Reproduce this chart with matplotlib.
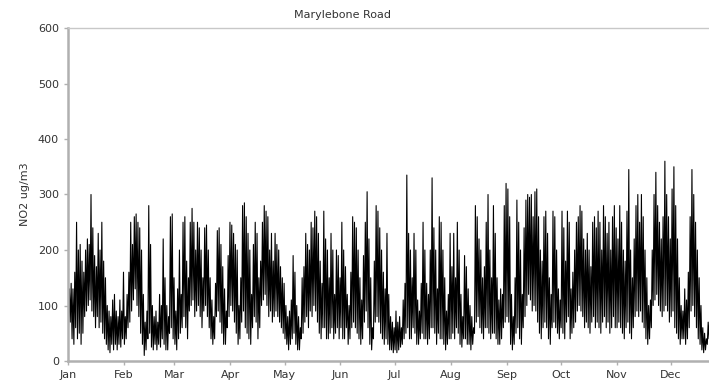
import numpy as np
import matplotlib.pyplot as plt

# daily NO2 peak / trough (ug/m3), one pair per day from 1 Jan
jan_hi = [130, 140, 130, 160, 250, 200, 210, 180, 160, 200, 220, 210, 300, 240, 190, 170,
          230, 200, 250, 180, 150, 100, 90, 80, 110, 120, 90, 80, 110, 90, 160]
jan_lo = [60, 70, 40, 30, 60, 40, 50, 30, 50, 80, 90, 100, 110, 90, 80, 60,
          80, 60, 70, 50, 40, 30, 20, 15, 30, 20, 30, 20, 30, 25, 40]
feb_hi = [80, 120, 160, 250, 210, 260, 265, 250, 240, 200, 120, 70, 90, 280,
          210, 100, 80, 90, 70, 120, 100, 220, 150, 100, 80, 260, 265, 150]
feb_lo = [30, 40, 60, 70, 90, 110, 130, 100, 80, 50, 30, 10, 20, 40,
          50, 25, 20, 30, 20, 30, 25, 40, 30, 20, 20, 50, 60, 40]
mar_hi = [90, 130, 200, 120, 250, 260, 180, 150, 250, 275, 250, 200, 250, 240, 200, 150,
          240, 245, 200, 150, 110, 80, 140, 235, 240, 210, 170, 130, 90, 190, 250]
mar_lo = [30, 20, 40, 50, 60, 80, 60, 40, 90, 100, 110, 80, 90, 100, 80, 60,
          90, 100, 80, 60, 40, 30, 40, 80, 90, 70, 50, 30, 30, 60, 80]
apr_hi = [245, 230, 210, 200, 100, 150, 280, 285, 260, 230, 200, 120, 210, 250, 230,
          150, 180, 250, 280, 270, 260, 200, 230, 180, 230, 210, 200, 170, 150, 140]
apr_lo = [100, 90, 70, 50, 30, 40, 70, 90, 60, 50, 40, 30, 60, 80, 70,
          40, 60, 100, 110, 120, 100, 80, 90, 70, 80, 90, 80, 70, 60, 50]
may_hi = [100, 80, 90, 110, 190, 160, 100, 80, 60, 150, 170, 230, 210, 200, 250, 240,
          270, 260, 230, 180, 140, 270, 220, 200, 150, 230, 200, 120, 200, 190, 150]
may_lo = [40, 30, 20, 30, 40, 50, 30, 20, 20, 40, 50, 70, 80, 60, 90, 80,
          100, 90, 70, 50, 40, 60, 60, 40, 40, 50, 60, 40, 50, 60, 40]
jun_hi = [250, 200, 170, 120, 100, 160, 260, 250, 240, 200, 150, 110, 190, 250, 305,
          220, 150, 60, 180, 280, 270, 240, 200, 160, 130, 230, 120, 80, 70, 60]
jun_lo = [60, 40, 40, 60, 30, 40, 60, 70, 60, 50, 40, 30, 40, 70, 90,
          60, 30, 20, 40, 70, 80, 70, 50, 40, 30, 40, 30, 20, 20, 15]
jul_hi = [90, 70, 80, 60, 110, 140, 335, 230, 200, 150, 230, 200, 110, 90, 140, 250,
          200, 140, 120, 200, 330, 240, 200, 130, 260, 250, 200, 150, 90, 120, 230]
jul_lo = [20, 15, 20, 25, 30, 40, 50, 60, 40, 40, 60, 50, 30, 30, 40, 50,
          40, 40, 30, 40, 60, 60, 50, 30, 50, 40, 40, 30, 20, 30, 40]
aug_hi = [170, 230, 150, 250, 200, 120, 80, 190, 170, 130, 100, 80, 60, 280, 260, 220,
          200, 150, 170, 250, 300, 200, 150, 280, 230, 150, 110, 130, 120, 280, 320]
aug_lo = [40, 50, 40, 60, 50, 30, 25, 40, 40, 30, 30, 20, 30, 50, 70, 80,
          60, 50, 40, 60, 60, 50, 40, 50, 50, 40, 30, 30, 40, 60, 70]
sep_hi = [310, 260, 120, 80, 150, 290, 250, 200, 120, 240, 290, 300, 295, 300, 260,
          305, 310, 260, 200, 180, 260, 270, 230, 150, 120, 270, 260, 200, 130, 110]
sep_lo = [80, 70, 30, 20, 30, 50, 60, 40, 30, 60, 80, 100, 120, 110, 90,
          100, 90, 70, 50, 40, 60, 70, 60, 40, 30, 60, 70, 60, 50, 40]
oct_hi = [270, 240, 180, 270, 250, 130, 160, 200, 250, 260, 280, 270, 220, 200, 230, 200,
          170, 250, 260, 240, 270, 250, 200, 280, 260, 230, 250, 200, 260, 280, 240]
oct_lo = [60, 50, 40, 70, 80, 40, 50, 60, 70, 90, 100, 90, 80, 60, 70, 60,
          50, 70, 80, 60, 70, 60, 50, 70, 80, 60, 70, 50, 60, 80, 60]
nov_hi = [220, 280, 250, 200, 180, 270, 345, 200, 150, 220, 280, 300, 250, 300, 260,
          200, 150, 100, 110, 200, 300, 340, 280, 250, 220, 260, 360, 300, 260, 220]
nov_lo = [60, 70, 60, 50, 40, 60, 70, 50, 40, 60, 80, 90, 80, 90, 70,
          60, 40, 30, 40, 60, 100, 110, 120, 100, 90, 80, 90, 100, 90, 70]
dec_hi = [310, 350, 280, 220, 150, 100, 90, 130, 110, 160, 260, 345, 300, 250, 200,
          150, 100, 60, 50, 40, 70, 90]
dec_lo = [80, 90, 60, 50, 40, 30, 40, 40, 30, 40, 60, 90, 100, 80, 60,
          40, 30, 20, 15, 20, 30, 40]

months = ['Jan', 'Feb', 'Mar', 'Apr', 'May', 'Jun', 'Jul', 'Aug', 'Sep', 'Oct', 'Nov', 'Dec']
month_start = [0, 31, 59, 90, 120, 151, 181, 212, 243, 273, 304, 334]

hi = jan_hi + feb_hi + mar_hi + apr_hi + may_hi + jun_hi + jul_hi + aug_hi + sep_hi + oct_hi + nov_hi + dec_hi
lo = jan_lo + feb_lo + mar_lo + apr_lo + may_lo + jun_lo + jul_lo + aug_lo + sep_lo + oct_lo + nov_lo + dec_lo

# zigzag trough -> peak for every day
days = np.arange(len(hi))
x = np.column_stack([days + 0.25, days + 0.75]).ravel()
y = np.column_stack([lo, hi]).ravel()

fig = plt.figure(figsize=(7.09, 3.92), dpi=100)
ax = fig.add_axes([68 / 709, 1 - 361 / 392, 1 - 68 / 709, (361 - 28) / 392])

ax.plot(x, y, color='black', lw=0.8)

ax.set_ylim(0, 600)
ax.set_xlim(0, 355.2)
ax.set_yticks(range(0, 601, 100))
ax.set_xticks(month_start)
ax.set_xticklabels(months)

for s in ['left', 'bottom']:
    ax.spines[s].set_color('#b0b0b0')
    ax.spines[s].set_linewidth(1.8)
ax.spines['top'].set_color('#c8c8c8')
ax.spines['top'].set_linewidth(1.0)
ax.spines['right'].set_visible(False)
ax.tick_params(axis='both', colors='#b0b0b0', labelcolor='#333333', labelsize=8, length=3, width=1)

ax.set_ylabel('NO2 ug/m3', fontsize=8, color='#333333', labelpad=6)
fig.text(343 / 709, 1 - 15 / 392, 'Marylebone Road', ha='center', va='center', fontsize=8, color='#333333')

fig.savefig('out.png', dpi=100)
